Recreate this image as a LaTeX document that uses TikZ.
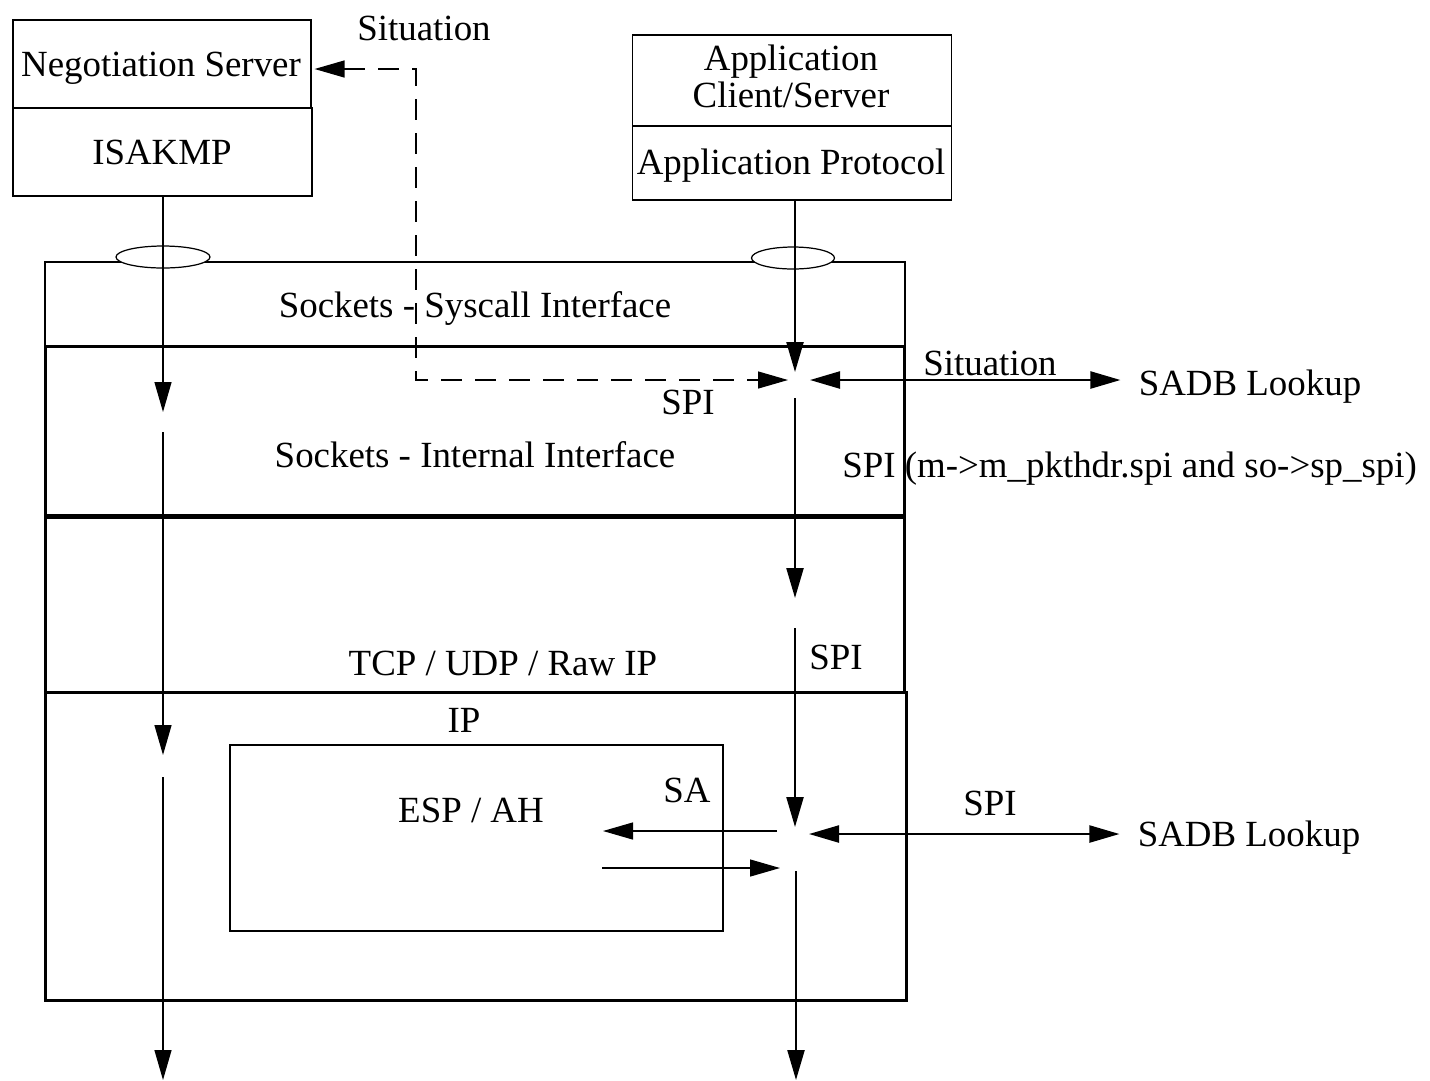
\documentclass[tikz,border=0pt]{standalone}
\usepackage{fontspec}
\setmainfont{Liberation Serif}
\usetikzlibrary{arrows.meta,shapes.geometric}
\begin{document}
\begin{tikzpicture}[x=0.02cm,y=-0.02cm,
  font=\fontsize{21}{24}\selectfont,
  box/.style={draw,line width=0.7pt,inner sep=0pt},
  layer/.style={draw,line width=1.7pt,inner sep=0pt},
  lbl/.style={anchor=base,inner sep=0pt},
  lblw/.style={anchor=base west,inner sep=0pt},
  sock/.style={ellipse,draw,fill=white,line width=0.7pt,inner sep=0pt,minimum height=0.44cm},
  thinflow/.style={line width=0.75pt},
  mainflow/.style={line width=1.3pt},
  dashflow/.style={line width=0.75pt,dash pattern=on 0.42cm off 0.26cm},
  tip/.style={-{Triangle[length=0.6cm,width=0.34cm]}},
  both/.style={{Triangle[length=0.6cm,width=0.34cm]}-{Triangle[length=0.6cm,width=0.34cm]}}]
\useasboundingbox (0,0) rectangle (1430,1080);

% user-level processes
\node[box,minimum width=5.96cm,minimum height=1.76cm] (negsrv) at (162,64) {};
\node[lbl] (negsrvtxt) at (161,76) {Negotiation Server};
\node[box,minimum width=5.98cm,minimum height=1.76cm] (isakmp) at (162.5,152) {};
\node[lbl] (isakmptxt) at (162,164) {ISAKMP};
\node[box,minimum width=6.38cm,minimum height=1.82cm] (appcs) at (792,80.5) {};
\node[lbl] (appcstxt1) at (791,70) {Application};
\node[lbl] (appcstxt2) at (791,107) {Client/Server};
\node[box,minimum width=6.38cm,minimum height=1.48cm] (appproto) at (792,163) {};
\node[lbl] (appprototxt) at (791,174) {Application Protocol};
\node[lbl] (sittop) at (424,40) {Situation};

% kernel layers
\node[box,minimum width=17.2cm,minimum height=1.68cm] (syscall) at (475,304) {};
\node[lbl] (syscalltxt) at (475,317) {Sockets - Syscall Interface};
\node[layer,minimum width=17.2cm,minimum height=3.38cm] (internal) at (475,430.5) {};
\node[lbl] (internaltxt) at (475,467) {Sockets - Internal Interface};
\node[layer,minimum width=17.2cm,minimum height=3.5cm] (tcp) at (475,604.5) {};
\node[lbl] (tcptxt) at (503,675) {TCP / UDP / Raw IP};
\node[layer,minimum width=17.24cm,minimum height=6.18cm] (ip) at (476,846.5) {};
\node[lbl] (iptxt) at (464,732) {IP};
\node[box,minimum width=9.86cm,minimum height=3.72cm] (esp) at (476.5,838) {};
\node[lbl] (esptxt) at (471,822) {ESP / AH};
\node[lbl] (satxt) at (687,802) {SA};

% socket endpoints
\node[sock,minimum width=1.88cm] (sockl) at (163,257) {};
\node[sock,minimum width=1.66cm] (sockr) at (793,258) {};

% labels on the right
\node[lbl] (sitright) at (990,375) {Situation};
\node[lbl] (sadb1) at (1250,395) {SADB Lookup};
\node[lbl] (spi1) at (688,414) {SPI};
\node[lblw] (spimbuf) at (842,477) {SPI (m->m\_pkthdr.spi and so->sp\_spi)};
\node[lbl] (spi2) at (836,669) {SPI};
\node[lbl] (spi3) at (990,815) {SPI};
\node[lbl] (sadb2) at (1249,846) {SADB Lookup};

% left data path (ISAKMP)
\coordinate (l1) at (163,412);
\coordinate (l2) at (163,432);
\coordinate (l3) at (163,755);
\coordinate (l4) at (163,777);
\coordinate (l5) at (163,1080);
\draw[thinflow,tip] (l1 |- isakmp.south) -- (l1);
\draw[thinflow,tip] (l2) -- (l3);
\draw[thinflow,tip] (l4) -- (l5);

% right data path (application)
\coordinate (r1) at (795,372);
\coordinate (r2) at (795,398);
\coordinate (r3) at (795,598);
\coordinate (r4) at (795,628);
\coordinate (r5) at (795,827);
\coordinate (r6) at (796,871);
\coordinate (r7) at (796,1080);
\draw[mainflow,tip] (r1 |- appproto.south) -- (r1);
\draw[mainflow,tip] (r2) -- (r3);
\draw[mainflow,tip] (r4) -- (r5);
\draw[mainflow,tip] (r6) -- (r7);

% situation path from the socket layer to the negotiation server
\coordinate (d1) at (416,69);
\coordinate (d2) at (416,380);
\coordinate (j1w) at (788,380);
\draw[dashflow,both,shorten <=0.06cm] (negsrv.east |- d1) -- (d1) -- (d2) -- (j1w);

% SADB lookups
\coordinate (j1e) at (810,380);
\draw[mainflow,both,shorten >=0.36cm] (j1e) -- (sadb1.west |- j1e);
\coordinate (j2e) at (809,834);
\draw[mainflow,both,shorten >=0.36cm] (j2e) -- (sadb2.west |- j2e);

% IPsec processing
\coordinate (e1) at (777,831);
\coordinate (e2) at (603,831);
\coordinate (e3) at (602,868);
\coordinate (e4) at (780,868);
\draw[thinflow,tip] (e1) -- (e2);
\draw[thinflow,tip] (e3) -- (e4);
\end{tikzpicture}
\end{document}
